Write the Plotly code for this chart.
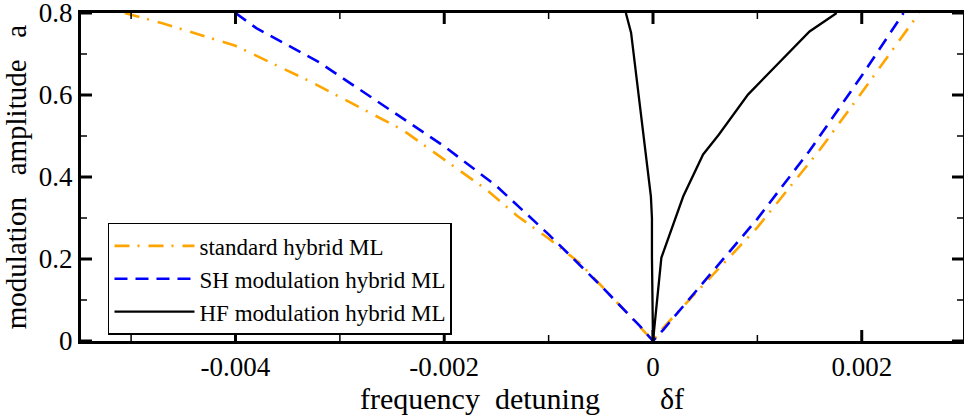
import plotly.graph_objects as go

# ---- data ----
std_x = [-0.00506, -0.0047, -0.0040, -0.0033, -0.0024, -0.0016, -0.0013, -0.0010,
         -0.0007, -0.0004, -0.0002, 0.0, 0.0001, 0.0010, 0.0016, 0.0020, 0.00255]
std_a = [0.80, 0.775, 0.72, 0.635, 0.515, 0.37, 0.305, 0.25,
         0.19, 0.11, 0.055, 0.0, 0.033, 0.277, 0.467, 0.606, 0.80]

sh_x = [-0.0040, -0.0038, -0.0032, -0.0025, -0.0020, -0.0015, -0.0013, -0.0010,
        -0.0005, -0.00012, 0.0, 0.0001, 0.0010, 0.0015, 0.0020, 0.0024]
sh_a = [0.80, 0.763, 0.68, 0.56, 0.475, 0.378, 0.33, 0.26,
        0.135, 0.035, 0.0, 0.028, 0.298, 0.464, 0.647, 0.80]

hf_x = [-0.00026, -0.00021, -0.00002, -0.00001, -0.00001, 0.0, 0.00008, 0.00029,
        0.00048, 0.00063, 0.00091, 0.0015, 0.00176]
hf_a = [0.80, 0.752, 0.352, 0.30, 0.205, 0.0, 0.203, 0.353,
        0.455, 0.503, 0.601, 0.755, 0.80]

x_tickvals = [-0.004, -0.002, 0, 0.002]
x_ticktext = ["-0.004", "-0.002", "0", "0.002"]
x_minorvals = [-0.005, -0.003, -0.001, 0.001]
y_tickvals = [0, 0.2, 0.4, 0.6, 0.8]
y_ticktext = ["0", "0.2", "0.4", "0.6", "0.8"]
y_minorvals = [0.1, 0.3, 0.5, 0.7]

names = ["standard hybrid ML", "SH modulation hybrid ML", "HF modulation hybrid ML"]

FONT = "Liberation Serif, Times New Roman, serif"
X_RANGE = [-0.00548, 0.00297]
Y_RANGE = [0, 0.8]

W, H = 964, 417
ML, MR, MT, MB = 81, 1, 13, 76
PW, PH = W - ML - MR, H - MT - MB
MAJ, MIN = 11, 6

fig = go.Figure()
fig.add_trace(go.Scatter(x=std_x, y=std_a, mode="lines", name=names[0],
                         line=dict(color="#FFA500", width=2.6, dash="15px,8px,2px,9px")))
fig.add_trace(go.Scatter(x=sh_x, y=sh_a, mode="lines", name=names[1],
                         line=dict(color="#0000FF", width=2.6, dash="13px,8px")))
fig.add_trace(go.Scatter(x=hf_x, y=hf_a, mode="lines", name=names[2],
                         line=dict(color="black", width=2.3)))

# inside tick marks on all four sides (drawn at the tick values)
shapes = []
for vals, ln, w in [(x_tickvals, MAJ, 3), (x_minorvals, MIN, 1.5)]:
    f = ln / PH
    for v in vals:
        shapes.append(dict(type="line", xref="x", yref="paper", x0=v, x1=v, y0=0, y1=f,
                           line=dict(color="black", width=w), layer="above"))
        shapes.append(dict(type="line", xref="x", yref="paper", x0=v, x1=v, y0=1, y1=1 - f,
                           line=dict(color="black", width=w), layer="above"))
for vals, ln, w in [(y_tickvals, MAJ, 3), (y_minorvals, MIN, 1.5)]:
    f = ln / PW
    for v in vals:
        shapes.append(dict(type="line", xref="paper", yref="y", x0=0, x1=f, y0=v, y1=v,
                           line=dict(color="black", width=w), layer="above"))
        shapes.append(dict(type="line", xref="paper", yref="y", x0=1, x1=1 - f, y0=v, y1=v,
                           line=dict(color="black", width=w), layer="above"))

nb = "\u00a0"
fig.update_layout(
    width=W, height=H,
    margin=dict(l=ML, r=MR, t=MT, b=MB, autoexpand=False),
    paper_bgcolor="white", plot_bgcolor="white",
    font=dict(family=FONT, color="black"),
    showlegend=True,
    shapes=shapes,
    legend=dict(x=0.0306, y=0.36, xanchor="left", yanchor="top",
                bgcolor="white", bordercolor="black", borderwidth=1.5,
                font=dict(family=FONT, size=23, color="black"),
                tracegroupgap=0, itemwidth=80),
    xaxis=dict(range=X_RANGE, showgrid=False, zeroline=False, automargin=False,
               showline=True, linecolor="black", linewidth=3, mirror=True,
               ticks="", tickmode="array", tickvals=x_tickvals, ticktext=x_ticktext,
               ticklabeloverflow="allow",
               tickfont=dict(family=FONT, size=27, color="black"),
               title=dict(text="frequency" + nb * 2 + "detuning" + nb * 8 + "δf",
                          font=dict(family=FONT, size=30, color="black"), standoff=4)),
    yaxis=dict(range=Y_RANGE, showgrid=False, zeroline=False, automargin=False,
               showline=True, linecolor="black", linewidth=3, mirror=True,
               ticks="", tickmode="array", tickvals=y_tickvals, ticktext=y_ticktext,
               ticklabeloverflow="allow",
               tickfont=dict(family=FONT, size=27, color="black"),
               title=dict(text="modulation" + nb * 3 + "amplitude" + nb * 3 + "a",
                          font=dict(family=FONT, size=29, color="black"), standoff=4)),
)

fig.write_html("out.html", config={"displayModeBar": False},
               post_script="document.body.style.margin='0px';document.body.style.overflow='hidden';")
